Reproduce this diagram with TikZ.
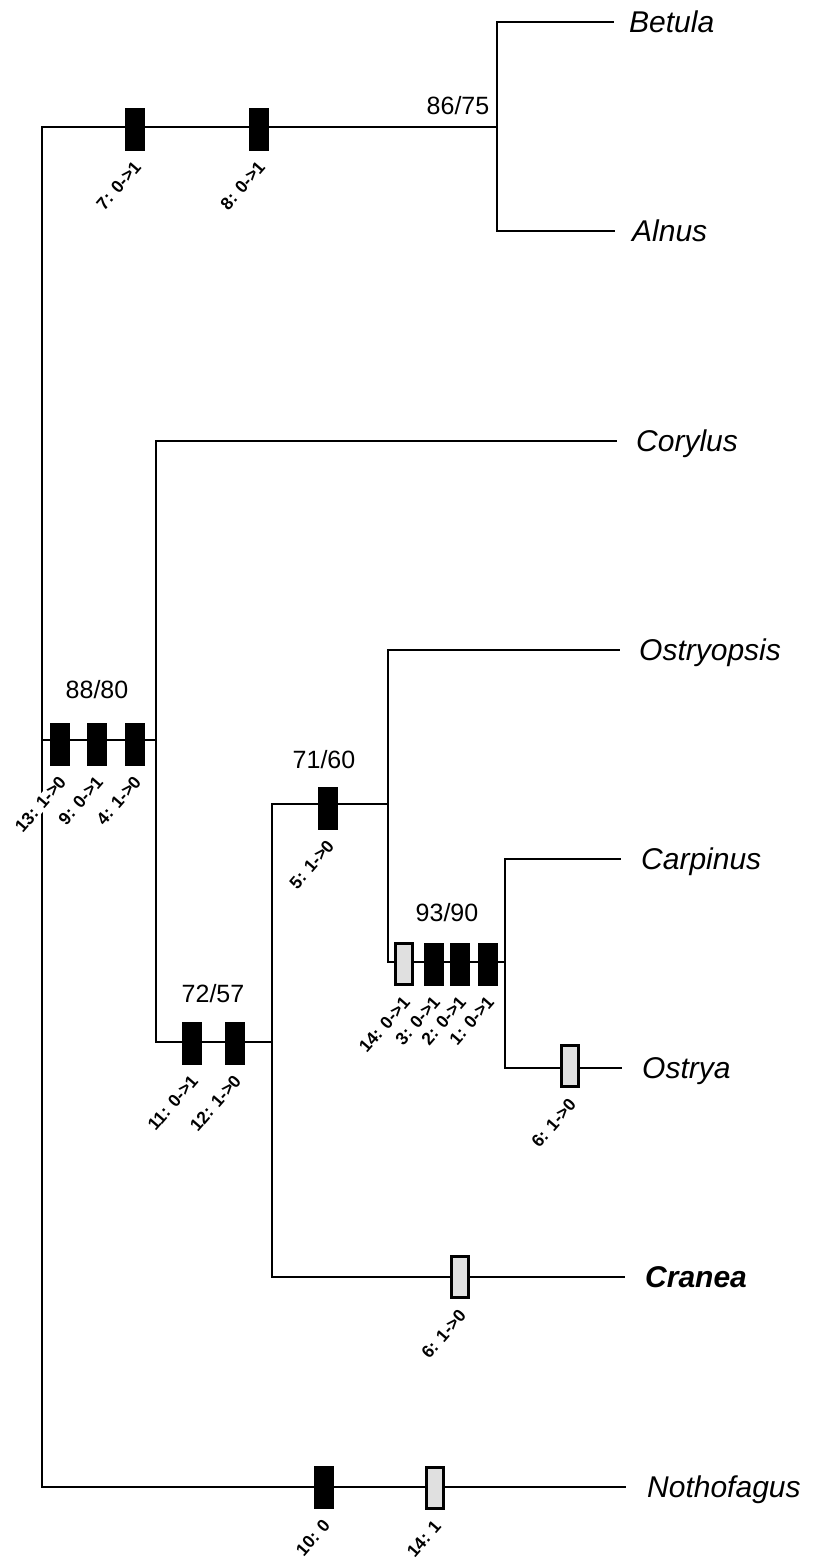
\documentclass[tikz,border=0pt]{standalone}
\usepackage{fontspec}
\setmainfont{Liberation Sans}
\begin{document}
\begin{tikzpicture}[x=1pt,y=-1pt,
  br/.style={line width=1.7pt, line cap=rect},
  bmark/.style={draw=black, fill=black, minimum width=19pt, minimum height=42pt, inner sep=0pt, line width=0.8pt},
  lmark/.style={draw=black, fill=black!12, minimum width=17pt, minimum height=41pt, inner sep=0pt, line width=2.4pt},
  taxon/.style={anchor=west, inner sep=0pt, text height=21.5pt, text depth=0pt, font=\fontsize{30}{30}\selectfont\itshape},
  supp/.style={anchor=base, inner sep=0pt, font=\fontsize{25}{25}\selectfont},
  clab/.style={anchor=east, rotate=49, inner sep=0.5pt, font=\fontsize{17.5}{17.5}\selectfont\bfseries}]
\useasboundingbox (0,0) rectangle (815,1559);
\fill[white] (0,0) rectangle (815,1559);

% ---- tree junction coordinates
\coordinate (rt) at (42,127);
\coordinate (rb) at (42,1487);
\coordinate (r88) at (42,740);
\coordinate (ba) at (497,127);
\coordinate (bat) at (497,22);
\coordinate (bab) at (497,231);
\coordinate (cot) at (156,441);
\coordinate (co88) at (156,740);
\coordinate (cob) at (156,1042);
\coordinate (c7t) at (272,804);
\coordinate (c7b) at (272,1277);
\coordinate (c7m) at (272,1042);
\coordinate (o1t) at (388,650);
\coordinate (o1m) at (388,804);
\coordinate (o1b) at (388,962);
\coordinate (cat) at (505,859);
\coordinate (cam) at (505,962);
\coordinate (cab) at (505,1068);

% ---- taxa
\node[taxon] (betula) at (629,22) {Betula};
\node[taxon] (alnus) at (632,231) {Alnus};
\node[taxon] (corylus) at (636,441) {Corylus};
\node[taxon] (ostryopsis) at (639,650) {Ostryopsis};
\node[taxon] (carpinus) at (641,859) {Carpinus};
\node[taxon] (ostrya) at (642,1068) {Ostrya};
\node[taxon, font=\fontsize{30}{30}\selectfont\bfseries\itshape] (cranea) at (645,1277) {Cranea};
\node[taxon] (nothofagus) at (647,1487) {Nothofagus};

\coordinate (ebetula) at (613,22);
\coordinate (ealnus) at (614,231);
\coordinate (ecorylus) at (616,441);
\coordinate (eostryopsis) at (619,650);
\coordinate (ecarpinus) at (620,859);
\coordinate (eostrya) at (621,1068);
\coordinate (ecranea) at (624,1277);
\coordinate (enothofagus) at (625,1487);

% ---- branches
\draw[br] (rt) -- (rb);
\draw[br] (rt) -- (ba);
\draw[br] (bat) -- (bab);
\draw[br] (bat) -- (ebetula);
\draw[br] (bab) -- (ealnus);
\draw[br] (r88) -- (co88);
\draw[br] (cot) -- (cob);
\draw[br] (cot) -- (ecorylus);
\draw[br] (cob) -- (c7m);
\draw[br] (c7t) -- (c7b);
\draw[br] (c7b) -- (ecranea);
\draw[br] (c7t) -- (o1m);
\draw[br] (o1t) -- (o1b);
\draw[br] (o1t) -- (eostryopsis);
\draw[br] (o1b) -- (cam);
\draw[br] (cat) -- (cab);
\draw[br] (cat) -- (ecarpinus);
\draw[br] (cab) -- (eostrya);
\draw[br] (rb) -- (enothofagus);

% ---- support values
\node[supp] (s8675) at (458,114) {86/75};
\node[supp] (s8880) at (97,698) {88/80};
\node[supp] (s7160) at (324,768) {71/60};
\node[supp] (s7257) at (213,1002) {72/57};
\node[supp] (s9390) at (447,921) {93/90};

% ---- character marks
\node[bmark] (m7) at (135,129) {};
\node[bmark] (m8) at (259,129) {};
\node[bmark] (m13) at (60,744) {};
\node[bmark] (m9) at (97,744) {};
\node[bmark] (m4) at (135,744) {};
\node[bmark] (m5) at (328,808) {};
\node[bmark] (m11) at (192,1043) {};
\node[bmark] (m12) at (235,1043) {};
\node[lmark] (m14a) at (404,964) {};
\node[bmark] (m3) at (434,964) {};
\node[bmark] (m2) at (460,964) {};
\node[bmark] (m1) at (488,964) {};
\node[lmark] (m6a) at (570,1066) {};
\node[lmark] (m6b) at (460,1277) {};
\node[bmark] (m10) at (324,1487) {};
\node[lmark] (m14b) at (435,1488) {};

% ---- character labels
\node[clab] (l7) at ([xshift=3pt,yshift=-13pt]m7.south) {7: 0->1};
\node[clab] (l8) at ([xshift=3pt,yshift=-13pt]m8.south) {8: 0->1};
\node[clab, fill=white] (l13) at ([xshift=3pt,yshift=-13pt]m13.south) {13: 1->0};
\node[clab] (l9) at ([xshift=3pt,yshift=-13pt]m9.south) {9: 0->1};
\node[clab] (l4) at ([xshift=3pt,yshift=-13pt]m4.south) {4: 1->0};
\node[clab] (l5) at ([xshift=3pt,yshift=-13pt]m5.south) {5: 1->0};
\node[clab] (l11) at ([xshift=3pt,yshift=-13pt]m11.south) {11: 0->1};
\node[clab] (l12) at ([xshift=3pt,yshift=-13pt]m12.south) {12: 1->0};
\node[clab] (l14a) at ([xshift=3pt,yshift=-13pt]m14a.south) {14: 0->1};
\node[clab] (l3) at ([xshift=3pt,yshift=-13pt]m3.south) {3: 0->1};
\node[clab] (l2) at ([xshift=3pt,yshift=-13pt]m2.south) {2: 0->1};
\node[clab] (l1) at ([xshift=3pt,yshift=-13pt]m1.south) {1: 0->1};
\node[clab] (l6a) at ([xshift=3pt,yshift=-13pt]m6a.south) {6: 1->0};
\node[clab] (l6b) at ([xshift=3pt,yshift=-13pt]m6b.south) {6: 1->0};
\node[clab] (l10) at ([xshift=3pt,yshift=-13pt]m10.south) {10: 0};
\node[clab] (l14b) at ([xshift=3pt,yshift=-13pt]m14b.south) {14: 1};
\end{tikzpicture}
\end{document}
